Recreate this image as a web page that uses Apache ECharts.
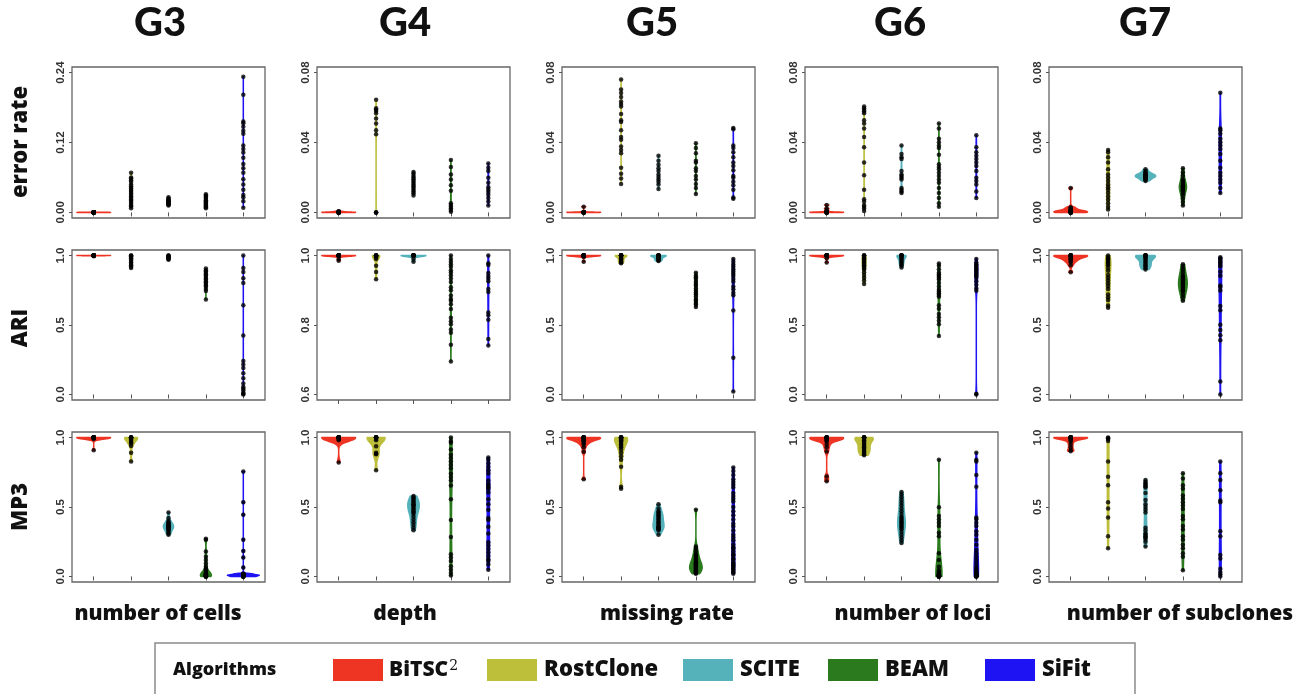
<!DOCTYPE html>
<html><head><meta charset="utf-8">
<script src="https://cdn.jsdelivr.net/npm/echarts@6/dist/echarts.min.js"></script>
<style>html,body{margin:0;padding:0;background:#fff}#c{width:1305px;height:694px}</style>
</head><body><div id="c"></div>
<script>
// ---------------- data ----------------
const algorithms = ['BiTSC2','RostClone','SCITE','BEAM','SiFit'];
const algoColors = ['#EE3524','#BDBE3A','#55B2BB','#2B7B1E','#1E13F2'];
const groupTitles = ['G3','G4','G5','G6','G7'];
const metricNames = ['error rate','ARI','MP3'];
const factorNames = ['number of cells','depth','missing rate','number of loci','number of subclones'];

const errTicks = [[0,0.12,0.24],[0,0.04,0.08],[0,0.04,0.08],[0,0.04,0.08],[0,0.04,0.08]];
const ariTicks = [[0,0.5,1],[0.6,0.8,1],[0,0.5,1],[0,0.5,1],[0,0.5,1]];
const mp3Ticks = [[0,0.5,1],[0,0.5,1],[0,0.5,1],[0,0.5,1],[0,0.5,1]];

// each: [BiTSC2, RostClone, SCITE, BEAM, SiFit]
const errG3 = [
 [0,0.0001,0,0.0002,0,0.0001,0,0.0003,0.0001,0,0.0002,0,0.0001,0,0.0002,0.0001,0,0.0003,0,0.0001],
 [0.068,0.060,0.058,0.055,0.052,0.048,0.045,0.042,0.040,0.037,0.035,0.032,0.030,0.027,0.025,0.022,0.020,0.018,0.015,0.012,0.010,0.007],
 [0.026,0.024,0.022,0.021,0.020,0.019,0.018,0.017,0.016,0.015,0.014,0.013,0.012],
 [0.031,0.029,0.027,0.025,0.023,0.021,0.019,0.018,0.016,0.015,0.013,0.012,0.010,0.009,0.007],
 [0.233,0.202,0.156,0.153,0.147,0.140,0.135,0.115,0.109,0.103,0.094,0.083,0.076,0.068,0.057,0.048,0.039,0.030,0.026,0.019,0.008]
];
const errG4 = [
 [0,0.0002,0,0.0004,0.0001,0,0.0003,0.0005,0,0.0002,0.0001,0,0.0006,0.0002,0],
 [0.0645,0.0596,0.0588,0.058,0.0567,0.0538,0.0509,0.047,0.0447,0,0,0],
 [0.0231,0.0222,0.021,0.020,0.019,0.018,0.017,0.016,0.015,0.014,0.013,0.012,0.011,0.0097],
 [0.030,0.026,0.0217,0.0188,0.0155,0.0124,0.0052,0.0043,0.0033,0.0023,0.0014,0.0004],
 [0.028,0.0256,0.0237,0.0198,0.0169,0.0144,0.013,0.0117,0.0101,0.0082,0.0062,0.0039]
];
const errG5 = [
 [0,0.0001,0,0.0002,0,0.0001,0,0.0003,0,0.0002,0.0001,0,0.0033],
 [0.0761,0.0703,0.0683,0.066,0.0635,0.0621,0.0606,0.0563,0.0528,0.0518,0.047,0.0431,0.0416,0.0377,0.0357,0.0338,0.0256,0.0221,0.0194,0.0163],
 [0.0324,0.0295,0.0272,0.0252,0.0237,0.0217,0.0202,0.0188,0.0175,0.0159,0.0134],
 [0.0396,0.0369,0.0338,0.0295,0.0285,0.0252,0.0237,0.0208,0.0188,0.0163,0.014,0.0105],
 [0.0483,0.0476,0.0383,0.0369,0.0344,0.0315,0.0285,0.0266,0.0241,0.0208,0.0198,0.0175,0.0155,0.013,0.0085,0.0078]
];
const errG6 = [
 [0,0.0001,0,0.0002,0,0.0001,0.0003,0,0.0002,0,0.0012,0.0023,0.0043],
 [0.0606,0.0596,0.0586,0.0577,0.0567,0.0528,0.0509,0.048,0.0431,0.0373,0.0285,0.0212,0.013,0.0076,0.0062,0.0043,0.0033,0.0023,0.0008],
 [0.0383,0.0334,0.0315,0.0305,0.0237,0.0217,0.0208,0.0198,0.0188,0.014,0.013,0.012,0.0111],
 [0.0509,0.048,0.0421,0.0402,0.0383,0.0369,0.033,0.0276,0.026,0.0247,0.0227,0.0208,0.0188,0.0169,0.014,0.0111,0.0082,0.0052,0.0033],
 [0.0441,0.0373,0.0344,0.0324,0.0305,0.0285,0.0266,0.0237,0.0198,0.0179,0.0159,0.012,0.0082]
];
const errG7 = [
 [0,0,0,0,0,0,0.0003,0.0005,0.0008,0.001,0.0012,0.0015,0.002,0.0025,0.003,0.014],
 [0.0357,0.0344,0.0315,0.0285,0.0247,0.0217,0.0198,0.0179,0.0159,0.0144,0.013,0.0111,0.0091,0.0072,0.0052,0.0033,0.0017],
 [0.0247,0.0235,0.0228,0.0222,0.0218,0.0215,0.0212,0.021,0.0208,0.0205,0.0202,0.02,0.0196,0.019,0.0185,0.0179],
 [0.0252,0.023,0.021,0.019,0.018,0.017,0.0162,0.0156,0.015,0.0145,0.014,0.0134,0.0127,0.012,0.011,0.0098,0.008,0.006,0.0039],
 [0.0684,0.048,0.047,0.045,0.0421,0.0402,0.0383,0.0363,0.0334,0.0295,0.0256,0.0227,0.0208,0.0188,0.0169,0.014,0.0111]
];

const ariG3 = [
 [1,1,1,1,1,1,1,1,1,1,1,1,1,1,1,0.995],
 [1,1,0.995,0.99,0.98,0.97,0.96,0.95,0.94,0.93,0.92,0.91],
 [1,1,0.995,0.99,0.985,0.98,0.975,0.97],
 [0.906,0.895,0.885,0.875,0.865,0.855,0.845,0.835,0.825,0.815,0.805,0.795,0.785,0.775,0.76,0.745,0.684],
 [1,0.911,0.881,0.837,0.802,0.642,0.425,0.24,0.215,0.19,0.153,0.116,0.079,0.054,0.042,0.03,0.012,0.005,0]
];
const ariG4 = [
 [1,1,1,1,1,1,1,1,1,1,1,1,1,1,0.99,0.985],
 [1,1,1,1,1,0.998,0.995,0.99,0.971,0.953,0.932],
 [1,1,1,1,1,1,1,1,1,1,1,0.99,0.982],
 [1,0.99,0.982,0.975,0.968,0.958,0.951,0.943,0.934,0.924,0.909,0.9,0.885,0.875,0.87,0.86,0.846,0.821,0.811,0.802,0.787,0.778,0.743,0.695],
 [1,0.978,0.973,0.95,0.941,0.934,0.926,0.904,0.895,0.836,0.828,0.815,0.76,0.741]
];
const ariG5 = [
 [1,1,1,1,1,1,1,1,1,1,1,1,1,1,0.99,0.956],
 [1,1,1,1,1,1,1,1,0.99,0.98,0.975,0.97,0.96,0.955,0.95,0.945],
 [1,1,1,1,1,1,0.995,0.99,0.985,0.98,0.975,0.97,0.965,0.96],
 [0.877,0.857,0.844,0.832,0.812,0.795,0.783,0.763,0.746,0.733,0.721,0.704,0.684,0.672,0.659,0.647,0.63],
 [0.975,0.956,0.936,0.919,0.901,0.886,0.869,0.852,0.832,0.812,0.778,0.758,0.733,0.714,0.605,0.264,0.022]
];
const ariG6 = [
 [1,1,1,1,1,1,1,1,1,1,1,1,1,1,0.98,0.95],
 [1,1,1,0.99,0.98,0.97,0.96,0.95,0.94,0.93,0.92,0.91,0.9,0.88,0.86,0.84,0.82,0.795],
 [1,1,1,1,1,1,0.99,0.98,0.97,0.96,0.95,0.94,0.93,0.914],
 [0.943,0.926,0.901,0.877,0.864,0.852,0.84,0.827,0.802,0.778,0.753,0.741,0.728,0.716,0.704,0.642,0.617,0.58,0.556,0.531,0.506,0.42],
 [0.975,0.95,0.938,0.926,0.914,0.901,0.889,0.877,0.864,0.852,0.84,0.815,0.79,0.765,0.746,0.005,0]
];
const ariG7 = [
 [1,1,1,1,1,1,1,1,0.99,0.98,0.975,0.97,0.96,0.95,0.93,0.879],
 [1,0.99,0.98,0.97,0.96,0.95,0.94,0.93,0.91,0.89,0.86,0.84,0.82,0.8,0.78,0.76,0.72,0.7,0.68,0.64,0.625],
 [1,1,1,1,1,1,0.99,0.98,0.97,0.96,0.95,0.94,0.93,0.92,0.91,0.9],
 [0.938,0.92,0.9,0.88,0.86,0.85,0.84,0.83,0.82,0.81,0.8,0.79,0.78,0.77,0.76,0.75,0.74,0.72,0.7,0.674],
 [0.988,0.978,0.97,0.958,0.946,0.933,0.921,0.884,0.854,0.785,0.773,0.748,0.637,0.607,0.501,0.464,0.427,0.39,0.094,0]
];

const mp3G3 = [
 [1,1,1,1,1,1,1,1,1,1,1,1,1,1,1,1,0.995,0.99,0.909],
 [1,1,1,1,1,0.995,0.985,0.975,0.965,0.958,0.94,0.89,0.828],
 [0.46,0.42,0.40,0.39,0.38,0.375,0.37,0.365,0.36,0.355,0.35,0.345,0.34,0.33,0.32,0.31,0.30],
 [0.272,0.265,0.179,0.142,0.118,0.093,0.069,0.055,0.044,0.032,0.025,0.02,0.018,0.015,0.012,0.01,0.008,0.007,0.005,0.004,0.003,0.002,0.001,0,0,0],
 [0.755,0.534,0.444,0.265,0.184,0.137,0.064,0.02,0.018,0.016,0.015,0.014,0.013,0.012,0.011,0.01,0.009,0.008,0.007,0.006,0.005,0.004,0.003,0.002,0.001,0,0,0,0]
];
const mp3G4 = [
 [1,1,1,1,1,1,1,1,1,1,1,1,0.99,0.98,0.82],
 [1,1,1,1,1,1,1,1,0.99,0.98,0.938,0.89,0.884,0.88,0.765],
 [0.58,0.57,0.56,0.55,0.54,0.53,0.52,0.515,0.51,0.5,0.49,0.48,0.47,0.46,0.45,0.43,0.41,0.39,0.37,0.35,0.333],
 [1,0.975,0.963,0.914,0.877,0.852,0.827,0.802,0.778,0.741,0.716,0.691,0.654,0.556,0.407,0.284,0.16,0.136,0.111,0.074,0.049,0.025,0.007],
 [0.857,0.84,0.815,0.79,0.765,0.741,0.691,0.667,0.654,0.642,0.63,0.605,0.556,0.519,0.481,0.42,0.407,0.358,0.309,0.247,0.222,0.198,0.173,0.148,0.123,0.111,0.086,0.049]
];
const mp3G5 = [
 [1,1,1,1,1,1,1,1,0.995,0.99,0.985,0.98,0.975,0.97,0.96,0.95,0.93,0.897,0.699],
 [1,1,1,1,1,1,0.995,0.99,0.985,0.98,0.975,0.97,0.96,0.95,0.94,0.93,0.914,0.89,0.865,0.84,0.79,0.645,0.632],
 [0.52,0.49,0.47,0.46,0.45,0.44,0.43,0.42,0.41,0.4,0.39,0.38,0.37,0.36,0.355,0.35,0.345,0.34,0.33,0.3],
 [0.48,0.215,0.2,0.18,0.16,0.15,0.14,0.13,0.12,0.11,0.1,0.095,0.09,0.085,0.08,0.075,0.07,0.065,0.06,0.055,0.05,0.045,0.04,0.035,0.03,0.025,0.02],
 [0.784,0.76,0.73,0.7,0.68,0.66,0.64,0.6,0.58,0.56,0.54,0.5,0.47,0.44,0.41,0.38,0.36,0.33,0.3,0.28,0.26,0.23,0.21,0.2,0.18,0.16,0.15,0.13,0.12,0.1,0.09,0.08,0.07,0.06,0.05,0.04,0.03,0.02]
];
const mp3G6 = [
 [1,1,1,1,1,1,1,1,0.995,0.99,0.985,0.98,0.97,0.95,0.93,0.9,0.72,0.686],
 [1,1,1,1,1,1,0.99,0.98,0.97,0.96,0.95,0.94,0.93,0.92,0.91,0.9,0.89,0.88,0.873],
 [0.608,0.59,0.57,0.55,0.53,0.51,0.49,0.47,0.45,0.43,0.42,0.41,0.4,0.39,0.38,0.37,0.36,0.35,0.34,0.32,0.3,0.28,0.26,0.24],
 [0.841,0.498,0.436,0.41,0.387,0.363,0.314,0.289,0.167,0.118,0.069,0.044,0.032,0.025,0.02,0.015,0.012,0.01,0.008,0.007,0.005,0.004,0.003,0.002,0,0,0,0],
 [0.89,0.841,0.828,0.73,0.645,0.424,0.412,0.387,0.363,0.326,0.301,0.265,0.228,0.191,0.167,0.142,0.118,0.093,0.069,0.056,0.044,0.032,0.025,0.02,0.015,0.012,0.01,0.007,0.005,0.003,0,0,0]
];
const mp3G7 = [
 [1,1,1,1,1,1,1,1,1,1,0.99,0.98,0.97,0.95,0.93,0.91,0.902],
 [1,0.995,0.99,0.975,0.828,0.718,0.657,0.534,0.49,0.424,0.289,0.203],
 [0.694,0.68,0.67,0.66,0.65,0.64,0.6,0.55,0.52,0.5,0.48,0.46,0.35,0.33,0.31,0.3,0.29,0.28,0.27,0.25,0.216],
 [0.743,0.706,0.657,0.632,0.583,0.559,0.534,0.51,0.485,0.436,0.412,0.363,0.338,0.289,0.265,0.228,0.203,0.167,0.142,0.044],
 [0.828,0.743,0.694,0.62,0.547,0.534,0.326,0.289,0.154,0.13,0.056,0.032,0.015,0]
];

// ---------------- layout ----------------
const panelRows = [
  {data:[errG3,errG4,errG5,errG6,errG7], ticks:errTicks, dec:2},
  {data:[ariG3,ariG4,ariG5,ariG6,ariG7], ticks:ariTicks, dec:1},
  {data:[mp3G3,mp3G4,mp3G5,mp3G6,mp3G7], ticks:mp3Ticks, dec:1}
];
const colLeft = [72, 317, 562, 805, 1049];
const colW = 193;
const rowTop = [67, 250, 432];
const rowH = [151, 150, 150];
const XMIN = 0.42, XMAX = 5.58;

function quantile(s, p){ const h=(s.length-1)*p; const lo=Math.floor(h); const hi=Math.min(lo+1,s.length-1); return s[lo]+(h-lo)*(s[hi]-s[lo]); }
function bwNrd0(x, span){
  const n=x.length; const s=[...x].sort((a,b)=>a-b);
  const mean=x.reduce((a,b)=>a+b,0)/n;
  const sd=Math.sqrt(x.reduce((a,b)=>a+(b-mean)*(b-mean),0)/Math.max(1,n-1));
  const iqr=quantile(s,0.75)-quantile(s,0.25);
  let lo=Math.min(sd, iqr/1.34);
  if(!(lo>0)) lo=sd;
  lo=Math.max(lo, span*0.0005);
  return 0.9*lo*Math.pow(n,-0.2);
}
function density(x, span){
  const bw=bwNrd0(x, span); const n=x.length;
  const mn=Math.min(...x), mx=Math.max(...x);
  const N=90; const out=[];
  for(let i=0;i<=N;i++){
    const y = mn + (mx-mn)*i/N;
    let d=0; for(const v of x){ const u=(y-v)/bw; d+=Math.exp(-0.5*u*u); }
    out.push([y, d/(n*bw*Math.sqrt(2*Math.PI))]);
  }
  return out;
}

const grids=[], xAxes=[], yAxes=[], series=[];
let idx=0;
panelRows.forEach((row, r)=>{
  row.data.forEach((panel, c)=>{
    const tk=row.ticks[c]; const lo=tk[0], hi=tk[tk.length-1]; const span=hi-lo;
    const dens = panel.map(g=>density(g, span));
    let mx=0; dens.forEach(d=>d.forEach(p=>{ if(p[1]>mx) mx=p[1]; }));
    const shapes = dens.map(d=>d.map(p=>[p[0], 0.45*p[1]/mx]));
    grids.push({left:colLeft[c], top:rowTop[r], width:colW, height:rowH[r], show:true,
      borderColor:'#666', borderWidth:1.3, backgroundColor:'#fff'});
    xAxes.push({type:'value', gridIndex:idx, min:XMIN, max:XMAX,
      axisLine:{show:false}, splitLine:{show:false}, axisLabel:{show:false},
      axisTick:{show:true, customValues:[1,2,3,4,5], length:4, inside:false, lineStyle:{color:'#555', width:1}}});
    yAxes.push({type:'value', gridIndex:idx, min:lo-0.04*span, max:hi+0.04*span,
      axisLine:{show:false}, splitLine:{show:false},
      axisTick:{show:true, customValues:tk, length:3, lineStyle:{color:'#555'}},
      axisLabel:{show:true, customValues:tk, rotate:90, margin:5, fontSize:11.5, fontWeight:'bold',
        fontFamily:'Liberation Sans, Arial, sans-serif', color:'#333',
        formatter:v=>Number(v).toFixed(row.dec)}});
    series.push({type:'custom', xAxisIndex:idx, yAxisIndex:idx, z:2, silent:true,
      data: panel.map((g,k)=>[k+1, Math.min(...g), Math.max(...g)]),
      encode:{x:0, y:[1,2]},
      renderItem:(params, api)=>{
        const k=params.dataIndex; const cx=api.value(0); const sh=shapes[k];
        const left = sh.map(p=>api.coord([cx-p[1], p[0]]));
        const right = sh.slice().reverse().map(p=>api.coord([cx+p[1], p[0]]));
        return {type:'polygon', shape:{points:left.concat(right)},
          style:{fill:algoColors[k], stroke:algoColors[k], lineWidth:1.5, lineJoin:'round'}};
      }});
    const pts=[]; panel.forEach((g,k)=>g.forEach(v=>pts.push([k+1, v])));
    series.push({type:'scatter', xAxisIndex:idx, yAxisIndex:idx, z:3, silent:true,
      data:pts, symbol:'circle', symbolSize:4.5, itemStyle:{color:'#000'}});
    idx++;
  });
});

// ---------------- text & legend ----------------
const TFONT='Lato, "Open Sans", sans-serif';
const LFONT='"Open Sans", Lato, sans-serif';
const graphics=[];
const titleX=[160, 405, 652, 900, 1145];
groupTitles.forEach((t,i)=>graphics.push({type:'text', x:titleX[i], y:23,
  style:{text:t, fontSize:40, fontWeight:900, fontFamily:TFONT, fill:'#111', align:'center', verticalAlign:'middle'}}));
const rowLabelY=[142, 328, 507];
metricNames.forEach((t,i)=>graphics.push({type:'text', x:21, y:rowLabelY[i], rotation:Math.PI/2,
  style:{text:t, fontSize:22, fontWeight:800, fontFamily:LFONT, fill:'#111', align:'center', verticalAlign:'middle'}}));
const xLabX=[158, 405, 667, 913, 1180];
factorNames.forEach((t,i)=>graphics.push({type:'text', x:xLabX[i], y:614,
  style:{text:t, fontSize:21, fontWeight:800, fontFamily:LFONT, fill:'#111', align:'center', verticalAlign:'middle'}}));
graphics.push({type:'rect', shape:{x:155, y:643, width:980, height:60},
  style:{fill:'none', stroke:'#8a8a8a', lineWidth:1.5}});
graphics.push({type:'text', x:173, y:670,
  style:{text:'Algorithms', fontSize:18, fontWeight:800, fontFamily:LFONT, fill:'#111', align:'left', verticalAlign:'middle'}});
const legX=[333, 487, 683, 828, 985];
algorithms.forEach((a,i)=>{
  graphics.push({type:'rect', shape:{x:legX[i], y:659, width:50, height:22}, style:{fill:algoColors[i]}});
  if(a==='BiTSC2'){
    graphics.push({type:'text', x:legX[i]+56, y:670,
      style:{text:'{a|BiTSC}{b|2}', align:'left', verticalAlign:'middle',
        rich:{a:{fontSize:21, fontWeight:800, fontFamily:LFONT, fill:'#111', verticalAlign:'bottom'},
              b:{fontSize:14, fontFamily:'DejaVu Serif, serif', fill:'#111', verticalAlign:'top', padding:[0,0,8,1]}}}});
  } else {
    graphics.push({type:'text', x:legX[i]+57, y:670,
      style:{text:a, fontSize:22, fontWeight:800, fontFamily:LFONT, fill:'#111', align:'left', verticalAlign:'middle'}});
  }
});

const chart=echarts.init(document.getElementById('c'), null, {renderer:'canvas'});
chart.setOption({animation:false, backgroundColor:'#fff', grid:grids, xAxis:xAxes, yAxis:yAxes, series:series, graphic:graphics});
</script></body></html>
